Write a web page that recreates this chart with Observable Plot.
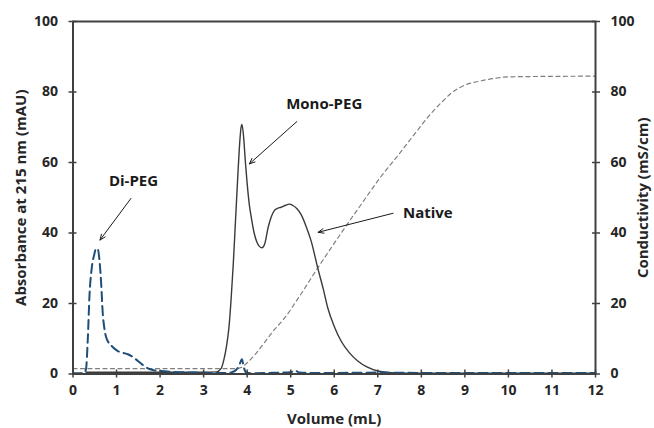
<!DOCTYPE html>
<html>
<head>
<meta charset="utf-8">
<script src="https://cdn.jsdelivr.net/npm/d3@7"></script>
<script src="https://cdn.jsdelivr.net/npm/@observablehq/plot@0.6"></script>
<style>
  html, body { margin: 0; padding: 0; background: #fff; }
  #chart svg { display: block; }
  #chart svg text { font-weight: 700; }
</style>
</head>
<body>
<div id="chart"></div>
<script>
// Absorbance (solid, native + mono-PEG)
const nativeVol = [0.3, 1, 2, 3, 3.3, 3.4, 3.46, 3.52, 3.58, 3.63, 3.68, 3.73, 3.78, 3.82, 3.86, 3.88, 3.92, 3.96, 4.0, 4.05, 4.1, 4.16, 4.22, 4.28, 4.34, 4.4, 4.48, 4.55, 4.62, 4.7, 4.78, 4.87, 4.97, 5.05, 5.15, 5.24, 5.35, 5.47, 5.62, 5.75, 5.85, 6.0, 6.16, 6.35, 6.54, 6.75, 7.0, 7.3, 8, 12];
const nativeAbs = [0.5, 0.5, 0.5, 0.5, 0.6, 1.5, 3.8, 7.5, 13, 21, 31, 43, 55, 64, 70, 70.8, 67, 60, 54, 48, 44, 40, 37.5, 36.2, 35.8, 36.8, 41.5, 44.5, 46.3, 47, 47.3, 47.8, 48.2, 47.8, 46.8, 45.2, 42, 37.7, 30.1, 24, 18.8, 13.5, 9.3, 6, 3.7, 2, 0.85, 0.4, 0.2, 0.2];

// Absorbance (dashed, Di-PEG trace)
const diVol = [0, 0.25, 0.3, 0.34, 0.38, 0.43, 0.49, 0.53, 0.57, 0.61, 0.65, 0.68, 0.72, 0.76, 0.8, 0.9, 1.03, 1.15, 1.26, 1.38, 1.49, 1.6, 1.72, 1.85, 2.02, 2.3, 2.8, 3.2, 3.5, 3.65, 3.75, 3.82, 3.88, 3.92, 3.98, 4.1, 4.5, 5.0, 5.1, 5.2, 5.5, 6, 7, 8, 9, 10, 11, 12];
const diAbs = [0.2, 0.2, 1.5, 10, 22.6, 30, 34, 35.6, 35.4, 32, 25, 17.8, 13, 10.5, 9.3, 7.8, 6.5, 6, 5.6, 4.8, 3.7, 2.6, 1.6, 1.1, 0.85, 0.6, 0.4, 0.3, 0.3, 0.5, 1.2, 2.5, 4.2, 2, 0.4, 0.2, 0.3, 0.5, 1, 0.4, 0.3, 0.3, 0.4, 0.3, 0.3, 0.3, 0.3, 0.3];

// Conductivity (grey dashed, right axis, same 0-100 range)
const condVol = [0, 3.7, 3.85, 4.0, 4.2, 4.4, 4.6, 4.86, 5.2, 5.59, 6.16, 6.6, 7.08, 7.54, 7.84, 8.23, 8.5, 8.69, 8.99, 9.38, 9.7, 10.0, 12];
const condVal = [1.5, 1.5, 1.8, 3.2, 5.8, 9, 12.2, 15.9, 22, 29.5, 40, 47.8, 56.1, 63.2, 68, 74, 77.5, 79.7, 81.9, 83.2, 83.9, 84.3, 84.5];

// Ticks
const xTicks = [0, 1, 2, 3, 4, 5, 6, 7, 8, 9, 10, 11, 12];
const yTicks = [0, 20, 40, 60, 80, 100];

// Axis titles (positions in data units, outside the frame)
const titleText = ["Absorbance at 215 nm (mAU)", "Conductivity (mS/cm)", "Volume (mL)"];
const titleX = [-1.2, 13.1, 6];
const titleY = [50, 50, -12.9];
const titleRotate = [-90, -90, 0];

// Annotations (data units)
const annLabels = ["Di-PEG", "Mono-PEG", "Native"];
const annTextX = [1.39, 5.77, 8.15];
const annTextY = [54.6, 76.6, 45.6];
const arrowX1 = [1.33, 5.14, 7.35];
const arrowY1 = [49.8, 71.6, 45.6];
const arrowX2 = [0.62, 4.05, 5.63];
const arrowY2 = [38.0, 59.6, 40.2];

const nativeData = nativeVol.map((v, i) => ({v, a: nativeAbs[i]}));
const diData = diVol.map((v, i) => ({v, a: diAbs[i]}));
const condData = condVol.map((v, i) => ({v, c: condVal[i]}));
const titleData = titleText.map((t, i) => ({t, x: titleX[i], y: titleY[i], r: titleRotate[i]}));
const annData = annLabels.map((t, i) => ({t, x: annTextX[i], y: annTextY[i]}));
const arrowData = annLabels.map((t, i) => ({x1: arrowX1[i], y1: arrowY1[i], x2: arrowX2[i], y2: arrowY2[i]}));

const axisColor = "#404040";
const textColor = "#262626";
const font = "'Open Sans', sans-serif";

const chart = Plot.plot({
  width: 654,
  height: 428,
  marginLeft: 72.5,
  marginRight: 59,
  marginTop: 21,
  marginBottom: 54.5,
  style: {fontFamily: font, fontSize: "14px", fontWeight: "bold", color: textColor, background: "#fff"},
  x: {domain: [0, 12]},
  y: {domain: [0, 100]},
  marks: [
    // data lines
    Plot.line(condData, {x: "v", y: "c", stroke: "#7f7f7f", strokeWidth: 1.2, strokeDasharray: "4,3.5", curve: "monotone-x"}),
    Plot.line(nativeData, {x: "v", y: "a", stroke: "#3a3a3a", strokeWidth: 1.4, curve: "monotone-x"}),
    Plot.line(diData, {x: "v", y: "a", stroke: "#1f4e79", strokeWidth: 2, strokeDasharray: "9,5", curve: "monotone-x"}),
    // frame
    Plot.frame({stroke: axisColor, strokeWidth: 2}),
    // crossing ticks
    Plot.axisX(xTicks, {anchor: "bottom", tickSize: 8, dy: -4, tickFormat: () => "", stroke: axisColor, strokeWidth: 1.5, label: null}),
    Plot.axisX(xTicks, {anchor: "bottom", tickSize: 0, tickPadding: 11, fill: textColor, fontSize: 14, label: null}),
    Plot.axisY(yTicks, {anchor: "left", tickSize: 8, dx: 4, tickFormat: () => "", stroke: axisColor, strokeWidth: 1.5, label: null}),
    Plot.axisY(yTicks, {anchor: "left", tickSize: 0, tickPadding: 15, fill: textColor, fontSize: 14, label: null}),
    Plot.axisY(yTicks, {anchor: "right", tickSize: 8, dx: -4, tickFormat: () => "", stroke: axisColor, strokeWidth: 1.5, label: null}),
    Plot.axisY(yTicks, {anchor: "right", tickSize: 0, tickPadding: 15, fill: textColor, fontSize: 14, label: null}),
    // axis titles
    Plot.text(titleData, {x: "x", y: "y", text: "t", rotate: "r", fontSize: 15, fill: textColor}),
    // annotations
    Plot.arrow(arrowData, {x1: "x1", y1: "y1", x2: "x2", y2: "y2", stroke: "#1a1a1a", strokeWidth: 1, headLength: 9, headAngle: 45}),
    Plot.text(annData, {x: "x", y: "y", text: "t", fontSize: 15, fill: "#1a1a1a"})
  ]
});
document.getElementById("chart").appendChild(chart);
</script>
</body>
</html>
